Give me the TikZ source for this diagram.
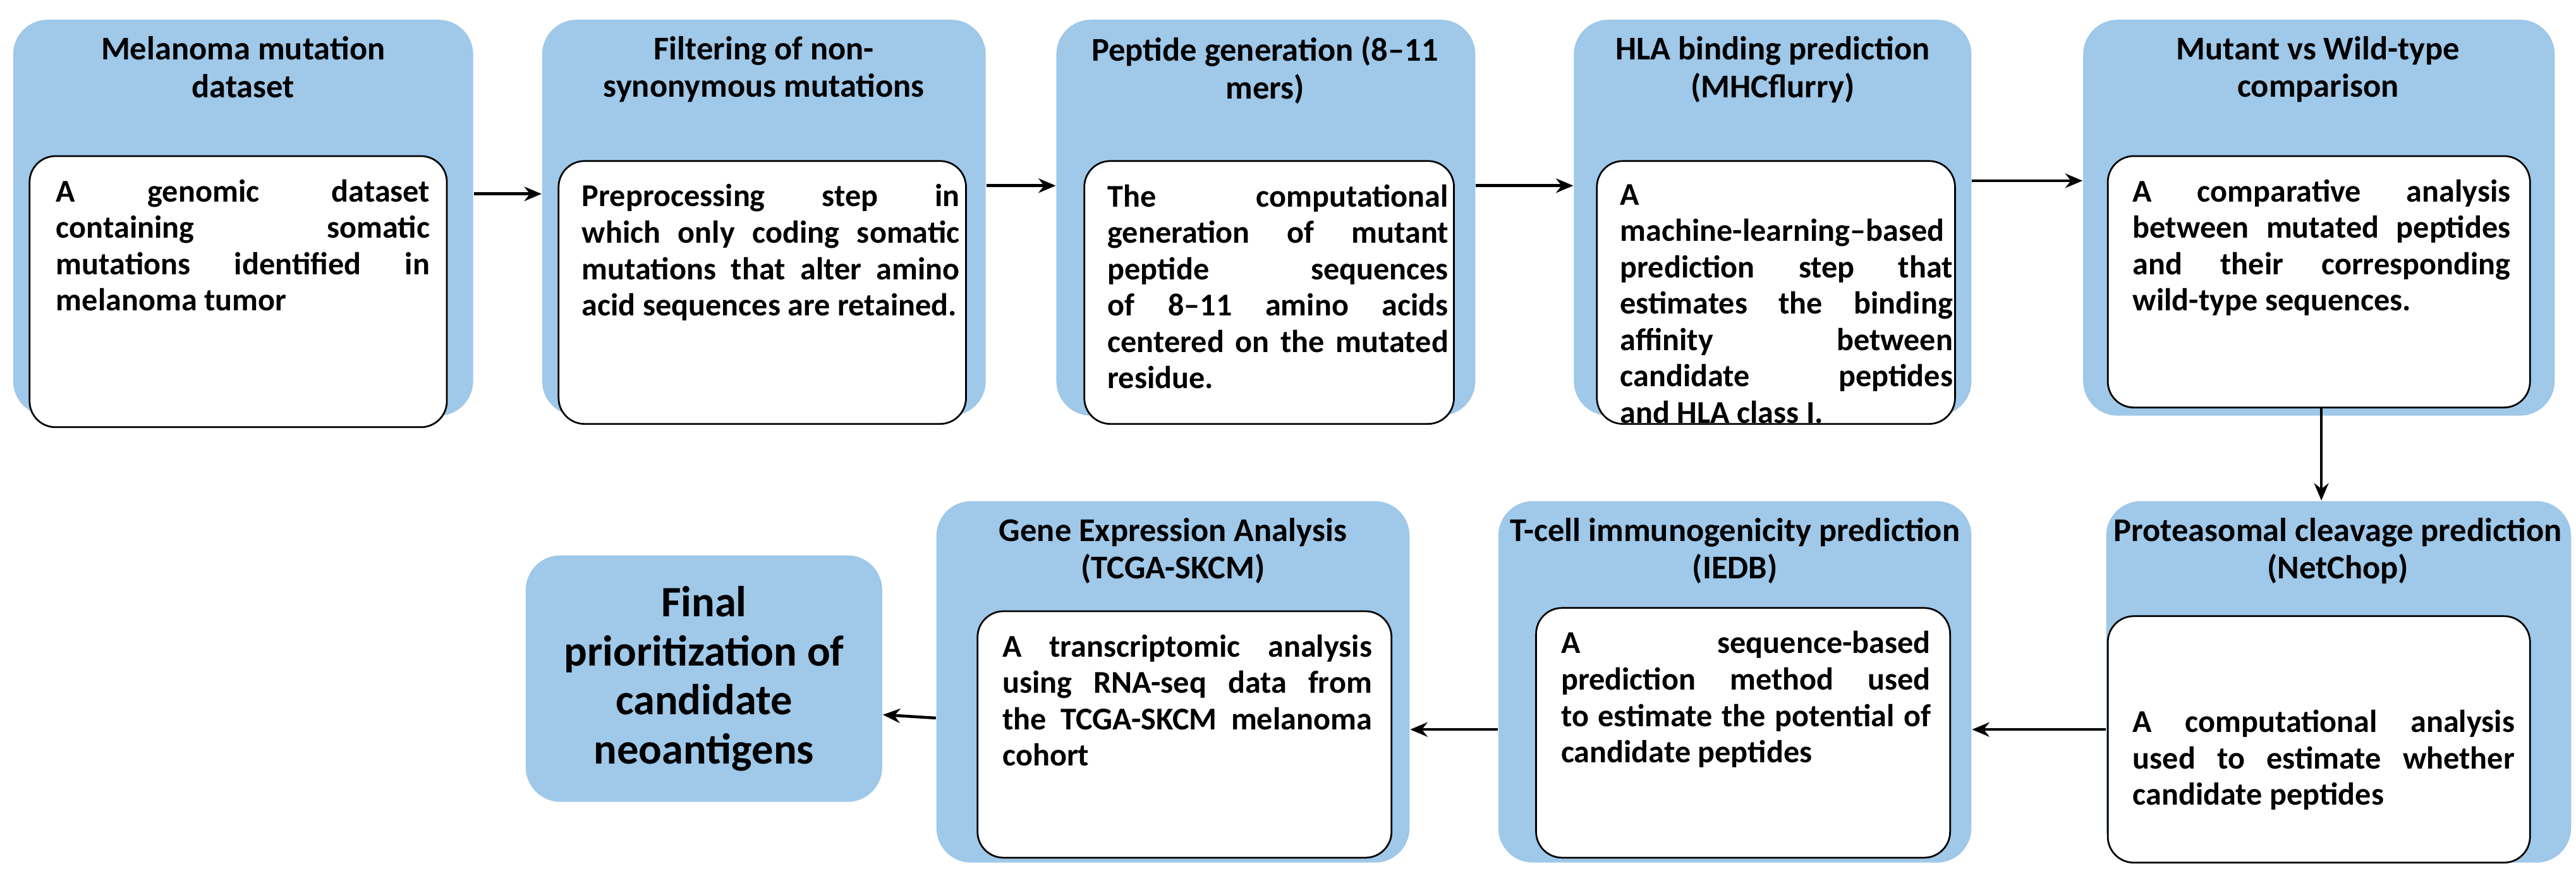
\documentclass[tikz,border=0pt]{standalone}
\usepackage{fontspec}
\setmainfont{Carlito}
\usetikzlibrary{fit,arrows.meta}
\definecolor{stageblue}{HTML}{9FC8E9}
\newcommand\nohyph{\hyphenpenalty 10000 \exhyphenpenalty 10000 \relax}
\tikzset{
  outer/.style={fill=stageblue, rounded corners=12pt, inner sep=0pt},
  inner/.style={draw=black, fill=white, rounded corners=9pt, inner sep=0pt, line width=0.6pt},
  title/.style={font=\bfseries\fontsize{11.5}{13}\selectfont, align=center, anchor=north},
  body/.style={font=\bfseries\fontsize{11}{12.6}\selectfont\nohyph,
    text width=4.55cm, align=justify, anchor=north west},
  arr/.style={-{Stealth[length=6pt,width=5pt]}, line width=1pt}
}
\begin{document}
\begin{tikzpicture}[x=0.02cm,y=-0.02cm]
\useasboundingbox (0,0) rectangle (1568,530);

% top row
\node[outer, fit={(8,12) (288,253)}] (o1) {};
\node[inner, fit={(18,95) (272,260)}] (b1) {};
\node[title] (t1) at (148,16) {Melanoma mutation\\dataset};
\node[body] (x1) at (28,103) {A genomic dataset containing somatic mutations identified in melanoma tumor};

\node[outer, fit={(330,12) (600,253)}] (o2) {};
\node[inner, fit={(340,98) (588,258)}] (b2) {};
\node[title] (t2) at (465,16) {Filtering of non-\\synonymous mutations};
\node[body, text width=4.6cm] (x2) at (348,106) {Preprocessing step in which only coding somatic mutations that alter amino acid sequences are retained.};

\node[outer, fit={(643,12) (898,253)}] (o3) {};
\node[inner, fit={(660,98) (885,258)}] (b3) {};
\node[title] (t3) at (770,16) {Peptide generation (8–11\\mers)};
\node[body, text width=4.15cm] (x3) at (668,106) {The computational generation of mutant peptide sequences of 8–11 amino acids centered on the mutated residue.};

\node[outer, fit={(958,12) (1200,253)}] (o4) {};
\node[inner, fit={(972,98) (1190,258)}] (b4) {};
\node[title] (t4) at (1079,16) {HLA binding prediction\\(MHCflurry)};
\node[body, text width=4.05cm] (x4) at (980,106) {A machine-learning–based prediction step that estimates the binding affinity between candidate peptides and HLA class I.};

\node[outer, fit={(1268,12) (1555,253)}] (o5) {};
\node[inner, fit={(1283,95) (1540,248)}] (b5) {};
\node[title] (t5) at (1411,16) {Mutant vs Wild-type\\comparison};
\node[body, text width=4.6cm] (x5) at (1292,103) {A comparative analysis between mutated peptides and their corresponding wild-type sequences.};

% bottom row
\node[outer, fit={(1282,305) (1565,525)}] (o6) {};
\node[inner, fit={(1283,375) (1540,525)}] (b6) {};
\node[title] (t6) at (1423,309) {Proteasomal cleavage prediction\\(NetChop)};
\node[body, text width=4.65cm] (x6) at (1292,426) {A computational analysis used to estimate whether candidate peptides};

\node[outer, fit={(912,305) (1200,525)}] (o7) {};
\node[inner, fit={(935,370) (1187,522)}] (b7) {};
\node[title] (t7) at (1056,309) {T-cell immunogenicity prediction\\(IEDB)};
\node[body, text width=4.5cm] (x7) at (944,378) {A sequence-based prediction method used to estimate the potential of candidate peptides};

\node[outer, fit={(570,305) (858,525)}] (o8) {};
\node[inner, fit={(595,372) (847,522)}] (b8) {};
\node[title] (t8) at (714,309) {Gene Expression Analysis\\(TCGA-SKCM)};
\node[body, text width=4.5cm] (x8) at (604,380) {A transcriptomic analysis using RNA-seq data from the TCGA-SKCM melanoma cohort};

\node[outer, fit={(320,338) (537,488)}] (o9) {};
\node[font=\bfseries\fontsize{15}{17}\selectfont, align=center] (t9) at (o9) {Final\\prioritization of\\candidate\\neoantigens};

% connectors
\draw[arr] ([yshift=.29cm]o1.east) -- ([yshift=.29cm]o2.west);
\draw[arr] ([yshift=.39cm]o2.east) -- ([yshift=.39cm]o3.west);
\draw[arr] ([yshift=.39cm]o3.east) -- ([yshift=.39cm]o4.west);
\draw[arr] ([yshift=.45cm]o4.east) -- ([yshift=.45cm]o5.west);
\draw[arr] (b5.south -| 1413,0) -- (o6.north -| 1413,0);
\draw[arr] ([yshift=-.58cm]o6.west) -- ([yshift=-.58cm]o7.east);
\draw[arr] ([yshift=-.58cm]o7.west) -- ([yshift=-.58cm]o8.east);
\draw[arr] ([yshift=-.44cm]o8.west) -- ([yshift=-.44cm]o9.east);
\end{tikzpicture}
\end{document}
